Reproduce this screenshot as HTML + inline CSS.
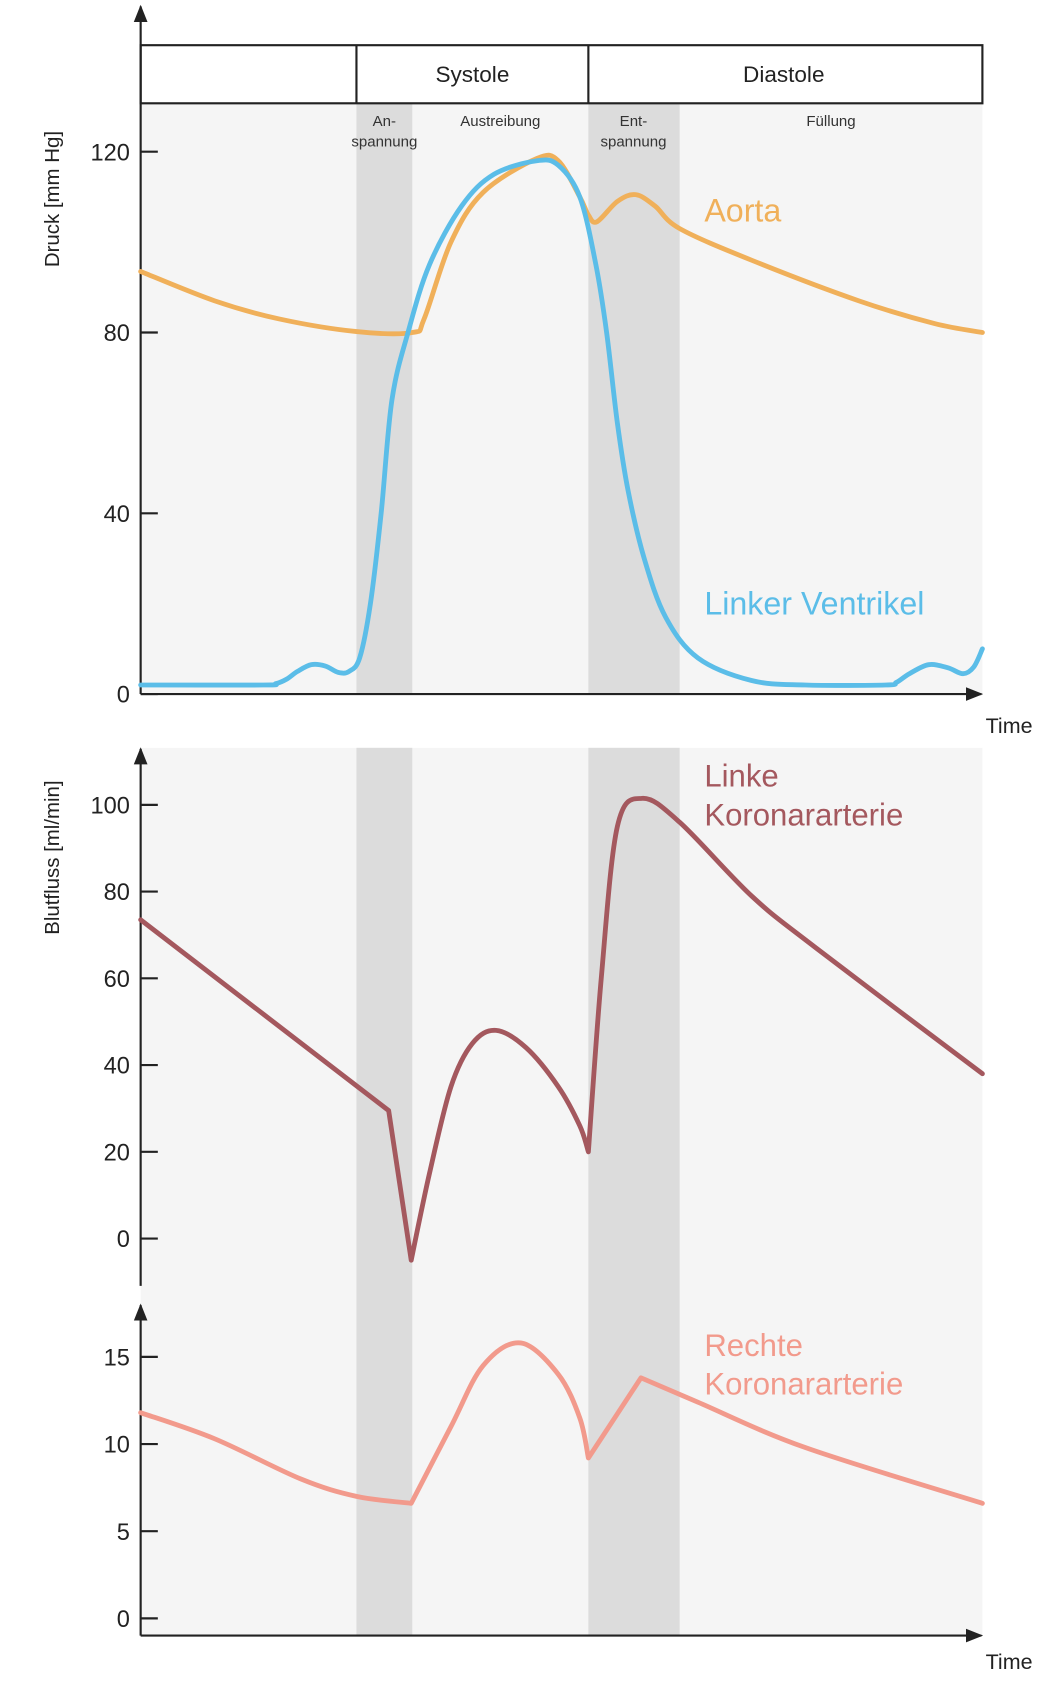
<!DOCTYPE html>
<html><head><meta charset="utf-8"><style>
html,body{margin:0;padding:0;background:#fff;}
svg{display:block;font-family:"Liberation Sans",sans-serif;}
</style></head><body>
<svg id="chart" width="1064" height="1684" viewBox="0 0 991 1565" preserveAspectRatio="none" xmlns="http://www.w3.org/2000/svg">
<defs>
<marker id="arr" viewBox="0 0 10 10" refX="9" refY="5" markerWidth="8" markerHeight="8" orient="auto-start-reverse"><path d="M0,1 L10,5 L0,9 z" fill="#222"/></marker>
</defs>
<g>
<rect x="131" y="96" width="784" height="549" fill="#f5f5f5"/>
<rect x="131" y="695" width="784" height="825" fill="#f5f5f5"/>
<rect x="332" y="96" width="52" height="549" fill="#dcdcdc"/>
<rect x="332" y="695" width="52" height="825" fill="#dcdcdc"/>
<rect x="548" y="96" width="85" height="549" fill="#dcdcdc"/>
<rect x="548" y="695" width="85" height="825" fill="#dcdcdc"/>
</g>
<g fill="none" stroke="#222" stroke-width="2">
<rect x="131" y="42" width="784" height="54"/>
<line x1="332" y1="42" x2="332" y2="96"/>
<line x1="548" y1="42" x2="548" y2="96"/>
</g>
<text x="440" y="76" font-size="21" text-anchor="middle" fill="#222">Systole</text>
<text x="730" y="76" font-size="21" text-anchor="middle" fill="#222">Diastole</text>
<g font-size="14" fill="#333" text-anchor="middle">
<text x="358" y="117">An-<tspan x="358" dy="19">spannung</tspan></text>
<text x="466" y="117">Austreibung</text>
<text x="590" y="117">Ent-<tspan x="590" dy="19">spannung</tspan></text>
<text x="774" y="117">Füllung</text>
</g>
<g stroke="#222" stroke-width="2" fill="none">
<line x1="131" y1="645" x2="131" y2="6" marker-end="url(#arr)"/>
<line x1="131" y1="645" x2="914" y2="645" marker-end="url(#arr)"/>
<line x1="131" y1="1195" x2="131" y2="696" marker-end="url(#arr)"/>
<line x1="131" y1="1520" x2="131" y2="1213" marker-end="url(#arr)"/>
<line x1="131" y1="1520" x2="914" y2="1520" marker-end="url(#arr)"/>
</g>
<text x="918" y="681" font-size="20" fill="#222">Time</text>
<text x="918" y="1551" font-size="20" fill="#222">Time</text>
<text transform="translate(55,185) rotate(-90)" font-size="19" text-anchor="middle" fill="#222">Druck [mm Hg]</text>
<text transform="translate(55,797) rotate(-90)" font-size="19" text-anchor="middle" fill="#222">Blutfluss [ml/min]</text>
<g id="ticks"></g>
<g id="series"></g>
<text x="656" y="206" font-size="30" fill="#f0b05a">Aorta</text>
<text x="656" y="571" font-size="30" fill="#5bbde8">Linker Ventrikel</text>
<text x="656" y="731" font-size="29" fill="#a4585e">Linke<tspan x="656" dy="36">Koronararterie</tspan></text>
<text x="656" y="1260" font-size="29" fill="#f29a8c">Rechte<tspan x="656" dy="36">Koronararterie</tspan></text>
</svg>
<script>
const aortaT = [0,69,129,201,253,264,289,319,369,389,409,417,425,444,461,479,502,569,669,739,784];
const aortaV = [93.5,87,83,80.2,80,83,100,111,118.5,118,110,106,104.5,109,110.5,108,103,96,87,82,80];
const lvT = [0,114,126,136,146,159,172,184,194,204,214,224,234,249,269,299,329,369,389,409,424,434,444,454,469,489,519,569,619,694,704,716,734,752,766,776,784];
const lvV = [2,2,2.3,3.3,5,6.5,6.2,4.8,5,8,20,40,65,80,95,108,115,118,117,110,95,80,60,45,30,17,8,3,2,2,2.6,4.5,6.5,5.8,4.5,6,10];
const lcaT = [0,231,252,269,289,309,331,359,389,409,417,429,444,467,502,569,629,784];
const lcaV = [73.5,29.5,-5,15,35,45,48,44,35,26,20,60,95,101.5,96,79,67,38];
const lcaCorners = [1,2,10];
const rcaT = [0,69,149,201,252,289,319,354,389,409,417,466,519,619,784];
const rcaV = [11.8,10.3,8,7,6.6,11,14.5,15.8,14,11.5,9.2,13.8,12.4,9.8,6.6];
const rcaCorners = [4,10,11];
const pressureTicks = [0,40,80,120];
const flowTicks = [0,20,40,60,80,100];
const rcaTicks = [0,5,10,15];

const xs = t => 131 + t;
const yP = v => 645 - v*4.2;
const yF = v => 1151 - v*4.03;
const yR = v => 1504 - v*16.2;
const NS = 'http://www.w3.org/2000/svg';

function smooth(pts){
  let d = '';
  for(let i=0;i<pts.length-1;i++){
    const p0=pts[Math.max(i-1,0)],p1=pts[i],p2=pts[i+1],p3=pts[Math.min(i+2,pts.length-1)];
    const c1=[p1[0]+(p2[0]-p0[0])/6,p1[1]+(p2[1]-p0[1])/6];
    const c2=[p2[0]-(p3[0]-p1[0])/6,p2[1]-(p3[1]-p1[1])/6];
    d += ` C${c1[0]},${c1[1]} ${c2[0]},${c2[1]} ${p2[0]},${p2[1]}`;
  }
  return d;
}
function buildPath(T,V,ys,corners){
  const pts = T.map((t,i)=>[xs(t),ys(V[i])]);
  const cuts = [0].concat(corners||[]).concat([pts.length-1]);
  let d = `M${pts[0][0]},${pts[0][1]}`;
  for(let k=0;k<cuts.length-1;k++){
    d += smooth(pts.slice(cuts[k],cuts[k+1]+1));
  }
  return d;
}
const series = document.getElementById('series');
function addLine(d,color,name){
  const p = document.createElementNS(NS,'path');
  p.setAttribute('d',d);
  p.setAttribute('fill','none');
  p.setAttribute('stroke',color);
  p.setAttribute('stroke-width','4.5');
  p.setAttribute('stroke-linejoin','round');
  p.setAttribute('stroke-linecap','round');
  
  
  series.appendChild(p);
}
addLine(buildPath(aortaT,aortaV,yP),'#f0b05a','aorta-line');
addLine(buildPath(lvT,lvV,yP),'#5bbde8','left-ventricle-line');
addLine(buildPath(lcaT,lcaV,yF,lcaCorners),'#a4585e','left-coronary-line');
addLine(buildPath(rcaT,rcaV,yR,rcaCorners),'#f29a8c','right-coronary-line');

const ticks = document.getElementById('ticks');
function addTicks(vals,ys){
  vals.forEach(v=>{
    const y = ys(v);
    const l = document.createElementNS(NS,'line');
    l.setAttribute('x1',131);l.setAttribute('x2',147);
    l.setAttribute('y1',y);l.setAttribute('y2',y);
    l.setAttribute('stroke','#222');l.setAttribute('stroke-width','2');
    
    
    ticks.appendChild(l);
    const t = document.createElementNS(NS,'text');
    t.setAttribute('x',121);t.setAttribute('y',y+8);
    t.setAttribute('text-anchor','end');t.setAttribute('font-size','22');
    t.setAttribute('fill','#222');
    t.textContent = v;
    
    
    ticks.appendChild(t);
  });
}
addTicks(pressureTicks,yP);
addTicks(flowTicks,yF);
addTicks(rcaTicks,yR);
</script>
</body></html>
